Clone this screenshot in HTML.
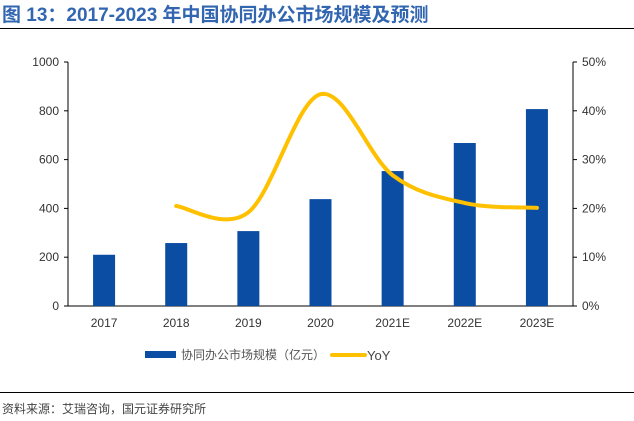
<!DOCTYPE html>
<html><head><meta charset="utf-8"><style>
body{margin:0;background:#fff;width:634px;height:421px;overflow:hidden}
svg{display:block;font-family:"Liberation Sans","Noto Sans CJK SC",sans-serif}
</style></head><body>
<svg id="c" width="634" height="421" viewBox="0 0 634 421" xmlns="http://www.w3.org/2000/svg">
<text x="2" y="21" font-size="19" font-weight="bold" fill="#3266B0">图 13：2017-2023 年中国协同办公市场规模及预测</text>
<line x1="0" y1="28.5" x2="634" y2="28.5" stroke="#000" stroke-width="1"/>
<g id="plot"></g>
<rect x="145" y="351" width="31" height="7" fill="#0B4DA2"/>
<text x="181" y="359" font-size="12" fill="#555">协同办公市场规模（亿元）</text>
<line x1="332" y1="355" x2="365" y2="355" stroke="#FFC000" stroke-width="4" stroke-linecap="round"/>
<text x="367" y="360" font-size="13" fill="#444">YoY</text>
<line x1="0" y1="392.5" x2="634" y2="392.5" stroke="#000" stroke-width="1"/>
<text x="2" y="413" font-size="12" fill="#444">资料来源：艾瑞咨询，国元证券研究所</text>
</svg>
<script>
const categories=["2017","2018","2019","2020","2021E","2022E","2023E"];
const marketSize=[210,258,307,438,553,668,807];
const yoy=[null,20.5,19.2,43.4,26.8,21.1,20.1];
const leftTicks=[0,200,400,600,800,1000];
const rightTicks=[0,10,20,30,40,50];
const NS="http://www.w3.org/2000/svg";
const g=document.getElementById('plot');
const X0=68,X1=573,Y0=306,Y1=62;
const band=(X1-X0)/categories.length;
const xc=i=>X0+band*(i+0.5);
const yl=v=>Y0-(v/1000)*(Y0-Y1);
const yr=v=>Y0-(v/50)*(Y0-Y1);
function mk(t,a){const e=document.createElementNS(NS,t);for(const k in a)e.setAttribute(k,a[k]);g.appendChild(e);return e;}
let e;
e=mk('line',{x1:X0,y1:Y1,x2:X0,y2:Y0,stroke:'#000'});


e=mk('line',{x1:X1,y1:Y1,x2:X1,y2:Y0,stroke:'#000'});


e=mk('line',{x1:X0,y1:Y0,x2:X1,y2:Y0,stroke:'#000'});


leftTicks.forEach(v=>{
 const t=mk('line',{x1:X0-4,x2:X0,y1:yl(v),y2:yl(v),stroke:'#000'});
 
 
 const l=mk('text',{x:X0-9,y:yl(v)+4,'text-anchor':'end','font-size':12,fill:'#333'});
 l.textContent=v;
 
 
});
rightTicks.forEach(v=>{
 const t=mk('line',{x1:X1,x2:X1+4,y1:yr(v),y2:yr(v),stroke:'#000'});
 
 
 const l=mk('text',{x:X1+9,y:yr(v)+4,'font-size':12,fill:'#333'});
 l.textContent=v+'%';
 
 
});
categories.forEach((c,i)=>{
 const b=mk('rect',{x:xc(i)-11,y:yl(marketSize[i]),width:22,height:Y0-yl(marketSize[i]),fill:'#0B4DA2'});
 
 
 const l=mk('text',{x:xc(i),y:Y0+21,'text-anchor':'middle','font-size':12,fill:'#333'});
 l.textContent=c;
 
 
});
const pts=[];yoy.forEach((v,i)=>{if(v!=null)pts.push([xc(i),yr(v)]);});
let d='M'+pts[0][0]+','+pts[0][1];
for(let i=0;i<pts.length-1;i++){
 const p0=pts[i-1]||pts[i],p1=pts[i],p2=pts[i+1],p3=pts[i+2]||p2;
 const c1=[p1[0]+(p2[0]-p0[0])/6,p1[1]+(p2[1]-p0[1])/6];
 const c2=[p2[0]-(p3[0]-p1[0])/6,p2[1]-(p3[1]-p1[1])/6];
 d+=` C${c1[0]},${c1[1]} ${c2[0]},${c2[1]} ${p2[0]},${p2[1]}`;
}
e=mk('path',{d:d,fill:'none',stroke:'#FFC000','stroke-width':4,'stroke-linecap':'round'});


</script>
</body></html>
